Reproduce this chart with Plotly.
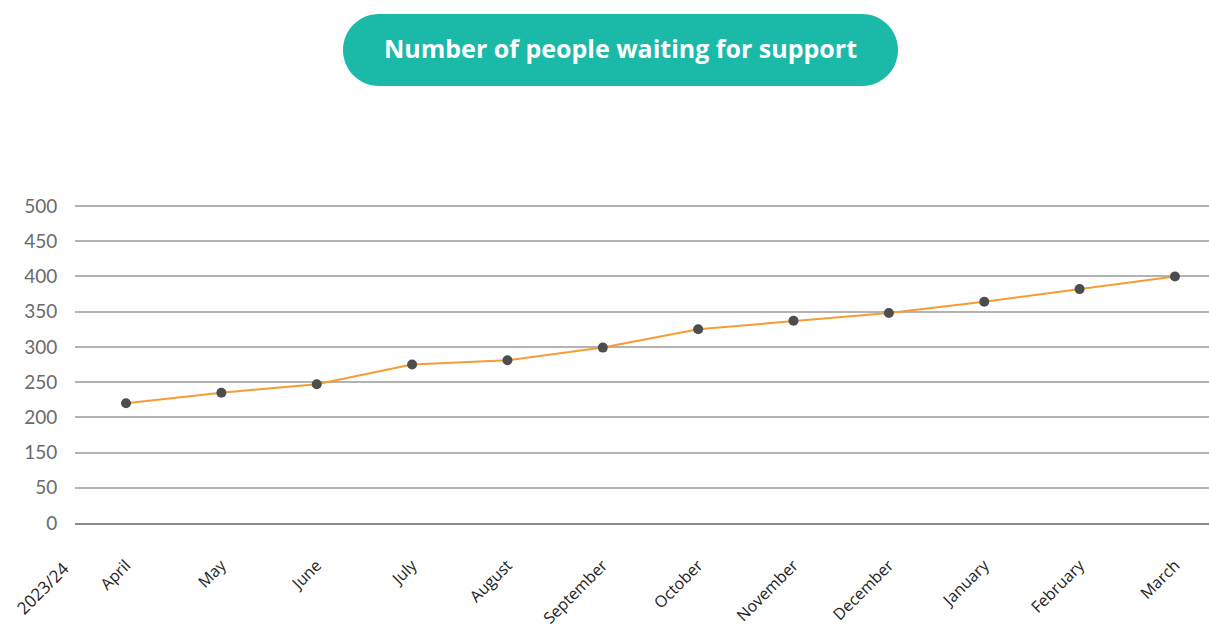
import plotly.graph_objects as go

# ---- data ----
months = ["April", "May", "June", "July", "August", "September",
          "October", "November", "December", "January", "February", "March"]
people_waiting = [220, 235, 247, 275, 281, 299, 325, 337, 348, 364, 382, 400]
# gridline positions and the labels printed on them in the reference
y_tick_vals = [50, 100, 150, 200, 250, 300, 350, 400, 450, 500]
y_tick_text = ["0", "50", "150", "200", "250", "300", "350", "400", "450", "500"]
period_label = "2023/24"
title_text = "Number of people waiting for support"

W, H = 1209, 624
L, R, T, B = 75, 0, 200, 101
PW, PH = W - L - R, H - T - B


def px_x(p):
    return (p - L) / PW


def px_y(p):
    return (H - B - p) / PH


fig = go.Figure()
fig.add_trace(go.Scatter(
    x=months, y=people_waiting, mode="lines+markers",
    line=dict(color="#f79c34", width=2),
    marker=dict(color="#4d4d4f", size=10),
    hoverinfo="x+y", showlegend=False,
))

# title pill
hw, hh = 277.5, 36
k = 0.5523 * hh
xs = hw - hh
pill = (f"M {-xs},{-hh} L {xs},{-hh} C {xs + k},{-hh} {hw},{-k} {hw},0 "
        f"C {hw},{k} {xs + k},{hh} {xs},{hh} L {-xs},{hh} "
        f"C {-xs - k},{hh} {-hw},{k} {-hw},0 C {-hw},{-k} {-xs - k},{-hh} {-xs},{-hh} Z")
fig.add_shape(type="path", path=pill, xref="paper", yref="paper",
              xsizemode="pixel", ysizemode="pixel",
              xanchor=px_x(620.5), yanchor=px_y(50),
              fillcolor="#1ab9a8", line=dict(width=0), layer="above")

fig.add_annotation(text=f"<b>{title_text}</b>", xref="paper", yref="paper",
                   x=px_x(620.5), y=px_y(48), showarrow=False,
                   xanchor="center", yanchor="middle",
                   font=dict(family="Open Sans", size=25, color="white"))

fig.add_annotation(text=period_label, xref="paper", yref="paper",
                   x=px_x(42), y=px_y(588), showarrow=False,
                   xanchor="center", yanchor="middle", textangle=-45,
                   font=dict(family="Open Sans", size=17, color="#222222"))

fig.update_layout(
    width=W, height=H,
    margin=dict(l=L, r=R, t=T, b=B, pad=0, autoexpand=False),
    paper_bgcolor="white", plot_bgcolor="white",
    xaxis=dict(
        type="category", range=[-0.535, 11.357], automargin=False,
        showgrid=False, showline=True, linecolor="#8a8a8a", linewidth=1.5,
        ticks="outside", ticklen=25, tickcolor="rgba(0,0,0,0)",
        tickangle=-45, tickfont=dict(family="Open Sans", size=16, color="#222222"),
        zeroline=False,
    ),
    yaxis=dict(
        range=[50, 508.5], tickvals=y_tick_vals, ticktext=y_tick_text,
        automargin=False,
        showgrid=True, gridcolor="#b3b3b3", gridwidth=1.5,
        zeroline=False, showline=False,
        ticks="outside", ticklen=13, tickcolor="rgba(0,0,0,0)",
        tickfont=dict(family="Lato", size=19, color="#6b6b6b"),
    ),
)

fig.write_html("out.html", config={"displayModeBar": False},
               post_script="document.body.style.margin='0px';")
